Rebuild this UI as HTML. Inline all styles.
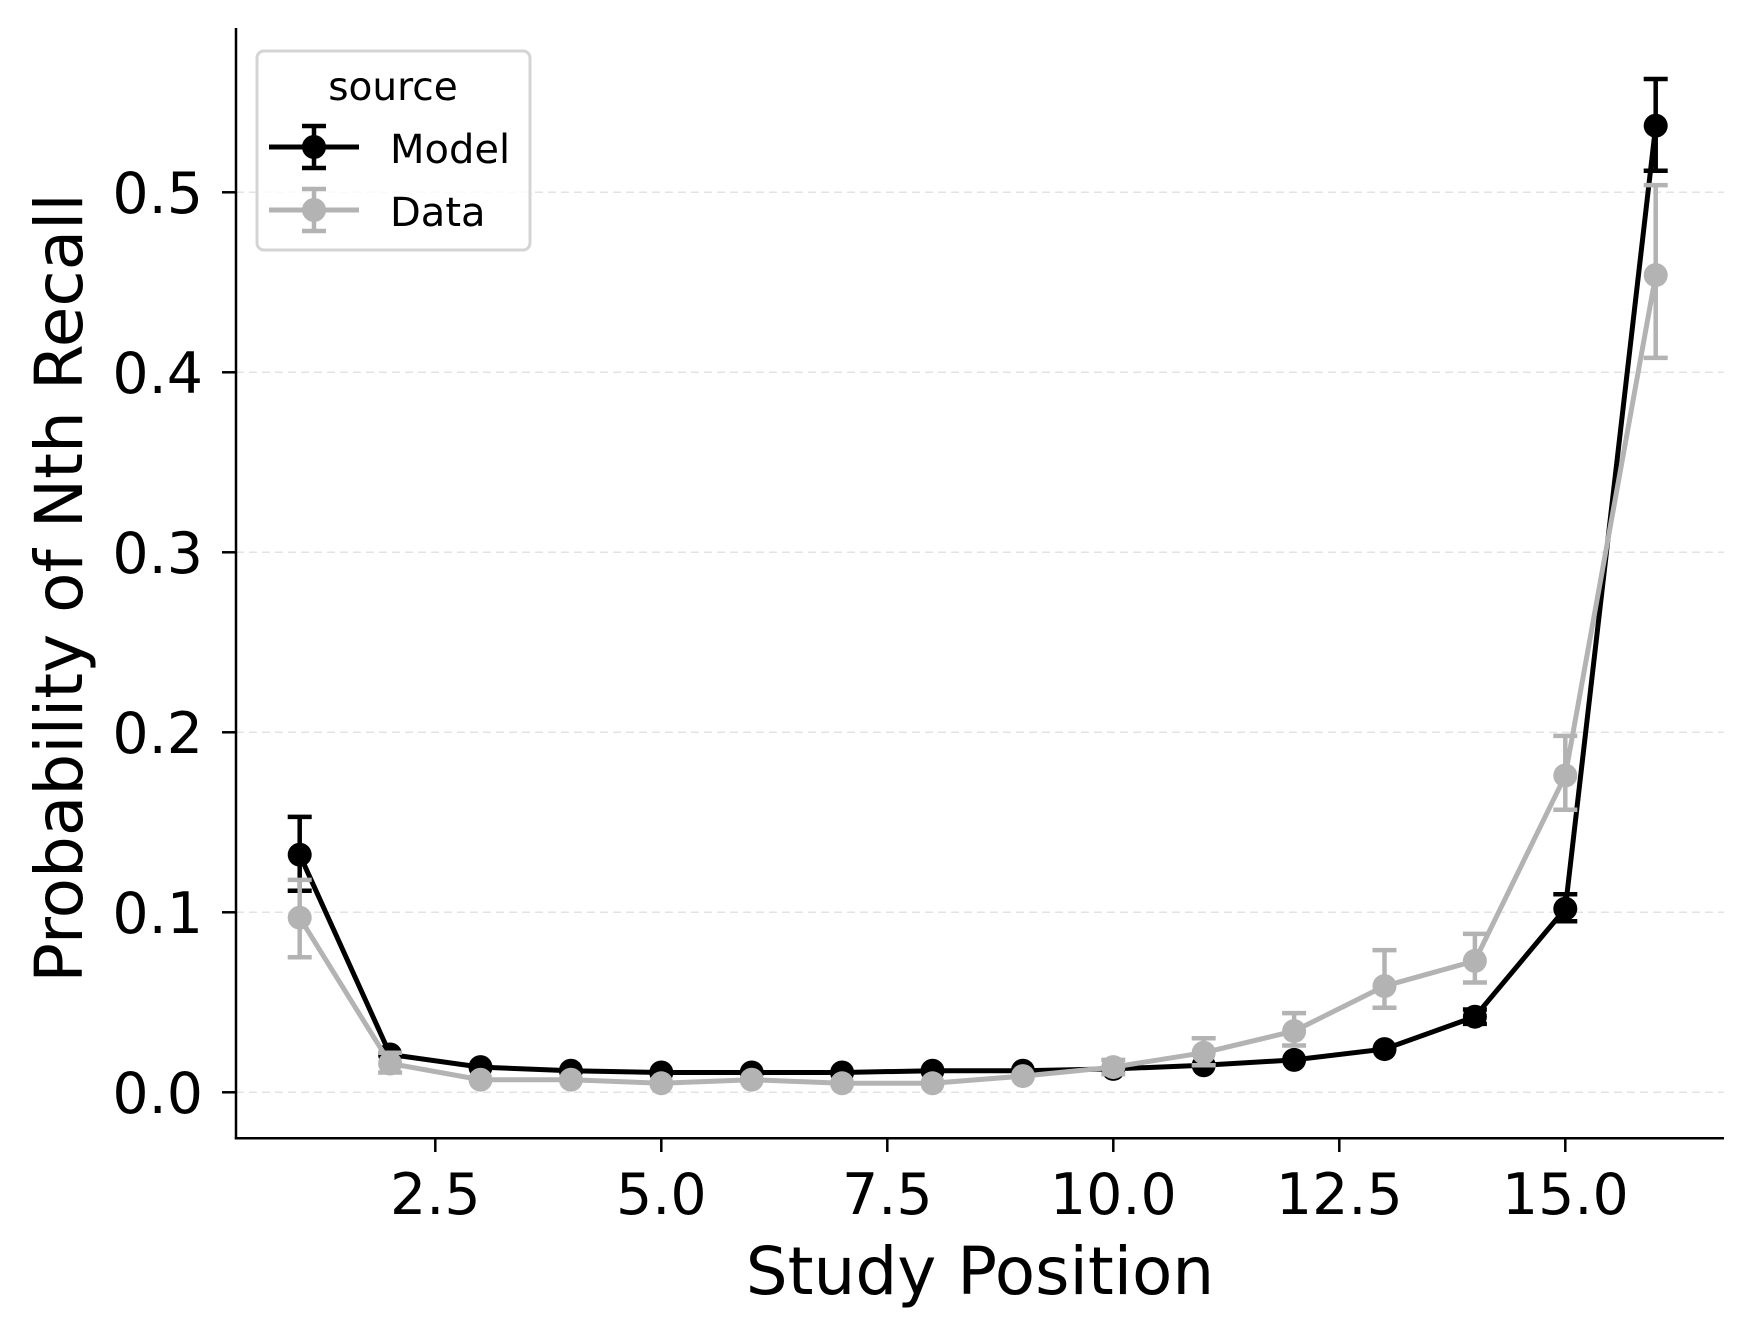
<!DOCTYPE html>
<html><head><meta charset="utf-8"><style>
html,body{margin:0;padding:0;background:#fff;}
svg{display:block;}
text{font-family:"DejaVu Sans","Liberation Sans",sans-serif;fill:#000;}
</style></head><body>
<svg width="1752" height="1337" viewBox="0 0 1752 1337" xmlns="http://www.w3.org/2000/svg">
<rect width="1752" height="1337" fill="#fff"/>
<g stroke="#e3e3e3" stroke-width="1.5" stroke-dasharray="8,5">
<line x1="236" x2="1724" y1="1092.3" y2="1092.3"/>
<line x1="236" x2="1724" y1="912.3" y2="912.3"/>
<line x1="236" x2="1724" y1="732.3" y2="732.3"/>
<line x1="236" x2="1724" y1="552.3" y2="552.3"/>
<line x1="236" x2="1724" y1="372.3" y2="372.3"/>
<line x1="236" x2="1724" y1="192.3" y2="192.3"/>
</g>
<g stroke="#000" stroke-width="2.5" fill="none">
<line x1="236" y1="28" x2="236" y2="1139.5"/>
<line x1="234.8" y1="1138.3" x2="1724" y2="1138.3"/>
<line x1="222" x2="236" y1="1092.3" y2="1092.3"/>
<line x1="222" x2="236" y1="912.3" y2="912.3"/>
<line x1="222" x2="236" y1="732.3" y2="732.3"/>
<line x1="222" x2="236" y1="552.3" y2="552.3"/>
<line x1="222" x2="236" y1="372.3" y2="372.3"/>
<line x1="222" x2="236" y1="192.3" y2="192.3"/>
<line y1="1138" y2="1152" x1="435.3" x2="435.3"/>
<line y1="1138" y2="1152" x1="661.3" x2="661.3"/>
<line y1="1138" y2="1152" x1="887.3" x2="887.3"/>
<line y1="1138" y2="1152" x1="1113.3" x2="1113.3"/>
<line y1="1138" y2="1152" x1="1339.3" x2="1339.3"/>
<line y1="1138" y2="1152" x1="1565.3" x2="1565.3"/>
</g>
<g font-size="57" text-anchor="end">
<text x="203" y="1113">0.0</text>
<text x="203" y="933">0.1</text>
<text x="203" y="753">0.2</text>
<text x="203" y="573">0.3</text>
<text x="203" y="393">0.4</text>
<text x="203" y="213">0.5</text>
</g>
<g font-size="57" text-anchor="middle">
<text x="435.3" y="1214">2.5</text>
<text x="661.3" y="1214">5.0</text>
<text x="887.3" y="1214">7.5</text>
<text x="1113.3" y="1214">10.0</text>
<text x="1339.3" y="1214">12.5</text>
<text x="1565.3" y="1214">15.0</text>
</g>
<text x="980" y="1294" font-size="66" text-anchor="middle">Study Position</text>
<text transform="translate(82,588) rotate(-90)" font-size="66" text-anchor="middle">Probability of Nth Recall</text>

<g stroke="#000" stroke-width="4.5" fill="none">
<path d="M299.7 890.7V816.9M287.7 890.7H311.7M287.7 816.9H311.7"/>
<path d="M1474.9 1023.9V1009.5M1462.9 1023.9H1486.9M1462.9 1009.5H1486.9"/>
<path d="M1565.3 921.3V894.3M1553.3 921.3H1577.3M1553.3 894.3H1577.3"/>
<path d="M1655.7 170.7V79M1643.7 170.7H1667.7M1643.7 79H1667.7"/>
<polyline stroke-width="5" points="299.7,854.7 390.1,1054.5 480.5,1067.1 570.9,1070.7 661.3,1072.5 751.7,1072.5 842.1,1072.5 932.5,1070.7 1022.9,1070.7 1113.3,1068.9 1203.7,1065.3 1294.1,1059.9 1384.5,1049.1 1474.9,1016.7 1565.3,908.7 1655.7,125.7"/>
</g>
<g fill="#000">
<circle cx="299.7" cy="854.7" r="12"/><circle cx="390.1" cy="1054.5" r="12"/><circle cx="480.5" cy="1067.1" r="12"/><circle cx="570.9" cy="1070.7" r="12"/><circle cx="661.3" cy="1072.5" r="12"/><circle cx="751.7" cy="1072.5" r="12"/><circle cx="842.1" cy="1072.5" r="12"/><circle cx="932.5" cy="1070.7" r="12"/><circle cx="1022.9" cy="1070.7" r="12"/><circle cx="1113.3" cy="1068.9" r="12"/><circle cx="1203.7" cy="1065.3" r="12"/><circle cx="1294.1" cy="1059.9" r="12"/><circle cx="1384.5" cy="1049.1" r="12"/><circle cx="1474.9" cy="1016.7" r="12"/><circle cx="1565.3" cy="908.7" r="12"/><circle cx="1655.7" cy="125.7" r="12"/>
</g>
<g stroke="#b3b3b3" stroke-width="4.5" fill="none">
<path d="M299.7 957.3V879.9M287.7 957.3H311.7M287.7 879.9H311.7"/>
<path d="M390.1 1072.5V1052.7M378.1 1072.5H402.1M378.1 1052.7H402.1"/>
<path d="M1113.3 1074.3V1059.9M1101.3 1074.3H1125.3M1101.3 1059.9H1125.3"/>
<path d="M1203.7 1065.3V1038.3M1191.7 1065.3H1215.7M1191.7 1038.3H1215.7"/>
<path d="M1294.1 1045.5V1013.1M1282.1 1045.5H1306.1M1282.1 1013.1H1306.1"/>
<path d="M1384.5 1007.7V950.1M1372.5 1007.7H1396.5M1372.5 950.1H1396.5"/>
<path d="M1474.9 982.5V933.9M1462.9 982.5H1486.9M1462.9 933.9H1486.9"/>
<path d="M1565.3 809.7V735.9M1553.3 809.7H1577.3M1553.3 735.9H1577.3"/>
<path d="M1655.7 357.9V185.1M1643.7 357.9H1667.7M1643.7 185.1H1667.7"/>
<polyline stroke-width="5" points="299.7,917.7 390.1,1063.5 480.5,1079.7 570.9,1079.7 661.3,1083.3 751.7,1079.7 842.1,1083.3 932.5,1083.3 1022.9,1076.1 1113.3,1067.1 1203.7,1052.7 1294.1,1031.1 1384.5,986.1 1474.9,960.9 1565.3,775.5 1655.7,275.1"/>
</g>
<g fill="#b3b3b3">
<circle cx="299.7" cy="917.7" r="12"/><circle cx="390.1" cy="1063.5" r="12"/><circle cx="480.5" cy="1079.7" r="12"/><circle cx="570.9" cy="1079.7" r="12"/><circle cx="661.3" cy="1083.3" r="12"/><circle cx="751.7" cy="1079.7" r="12"/><circle cx="842.1" cy="1083.3" r="12"/><circle cx="932.5" cy="1083.3" r="12"/><circle cx="1022.9" cy="1076.1" r="12"/><circle cx="1113.3" cy="1067.1" r="12"/><circle cx="1203.7" cy="1052.7" r="12"/><circle cx="1294.1" cy="1031.1" r="12"/><circle cx="1384.5" cy="986.1" r="12"/><circle cx="1474.9" cy="960.9" r="12"/><circle cx="1565.3" cy="775.5" r="12"/><circle cx="1655.7" cy="275.1" r="12"/>
</g>
<rect x="257" y="51" width="273" height="199" rx="7" fill="#fff" fill-opacity="0.8" stroke="#d4d4d4" stroke-width="3"/>
<text x="393" y="100" font-size="39" text-anchor="middle">source</text>
<g stroke="#000" stroke-width="5" fill="none">
<line x1="269" x2="359" y1="147" y2="147"/>
<path d="M314 126V168M302 126H326M302 168H326" stroke-width="4.5"/>
</g>
<circle cx="314" cy="147" r="12" fill="#000"/>
<text x="390" y="163" font-size="40">Model</text>
<g stroke="#b3b3b3" stroke-width="5" fill="none">
<line x1="269" x2="359" y1="210" y2="210"/>
<path d="M314 189V231M302 189H326M302 231H326" stroke-width="4.5"/>
</g>
<circle cx="314" cy="210" r="12" fill="#b3b3b3"/>
<text x="390" y="226" font-size="40">Data</text>
</svg>
</body></html>
